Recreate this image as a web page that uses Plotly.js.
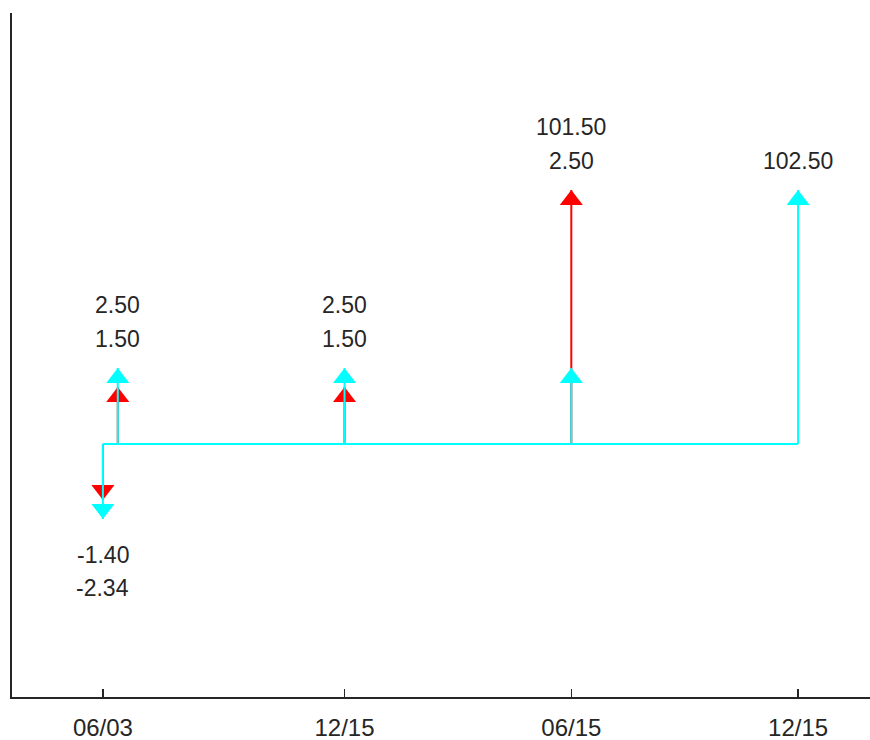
<!DOCTYPE html>
<html><head><meta charset="utf-8">
<script src="https://cdn.plot.ly/plotly-3.0.1.min.js"></script>
<style>html,body{margin:0;padding:0;background:#fff}#chart{width:870px;height:740px}</style>
</head><body><div id="chart"></div>
<script>
// cash-flow dates
const flowDates = ['2003-06-03', '2003-06-15', '2003-12-15', '2004-06-15', '2004-12-15'];
// cash-flow amounts (labels)
const bondAAmounts = [-1.40, 1.50, 1.50, 101.50];          // red
const bondBAmounts = [-2.34, 2.50, 2.50, 2.50, 102.50];    // cyan
// arrow lengths as drawn in the picture (not to scale, arbitrary units)
const bondAArrows = [-56, 57, 57, 254];
const bondBArrows = [-75, 76, 76, 76, 254];
// axis ticks
const tickDates = ['2003-06-03', '2003-12-15', '2004-06-15', '2004-12-15'];
const tickLabels = ['06/03', '12/15', '06/15', '12/15'];

const RED = '#ff0000', CYAN = '#00ffff', TEXT = '#262626';
const HEAD = 20;

function stems(arrows, color) {
  const dates = flowDates.slice(0, arrows.length);
  const xs = [dates[0], dates[dates.length - 1], null];
  const ys = [0, 0, null];
  arrows.forEach((h, i) => { xs.push(dates[i], dates[i], null); ys.push(0, h, null); });
  return {x: xs, y: ys, type: 'scatter', mode: 'lines', line: {color: color, width: 2},
          hoverinfo: 'skip', showlegend: false, cliponaxis: false};
}
function heads(arrows, color) {
  return {x: flowDates.slice(0, arrows.length), y: arrows, type: 'scatter', mode: 'markers',
          marker: {symbol: 'triangle-up', size: HEAD, color: color,
                   angle: arrows.map(h => h < 0 ? 180 : 0), standoff: HEAD / 2},
          hoverinfo: 'skip', showlegend: false, cliponaxis: false};
}

const data = [stems(bondAArrows, RED), heads(bondAArrows, RED),
              stems(bondBArrows, CYAN), heads(bondBArrows, CYAN)];

// labels
const annotations = [];
flowDates.forEach((d, i) => {
  const items = [];
  if (i < bondAAmounts.length) items.push({v: bondAAmounts[i], h: bondAArrows[i]});
  if (i < bondBAmounts.length) items.push({v: bondBAmounts[i], h: bondBArrows[i]});
  const pos = items.filter(o => o.v > 0).sort((a, b) => a.v - b.v);
  const neg = items.filter(o => o.v < 0).sort((a, b) => b.v - a.v);
  if (pos.length) {
    const top = Math.max(...pos.map(o => o.h));
    pos.forEach((o, k) => annotations.push({x: d, y: top, xref: 'x', yref: 'y', text: o.v.toFixed(2),
      showarrow: false, yanchor: 'middle', yshift: 29 + 34 * k, font: {family: 'Liberation Sans, Arial', size: 23, color: TEXT}}));
  }
  if (neg.length) {
    const bot = Math.min(...neg.map(o => o.h));
    neg.forEach((o, k) => annotations.push({x: d, y: bot, xref: 'x', yref: 'y', text: o.v.toFixed(2),
      showarrow: false, yanchor: 'middle', yshift: -(36 + 33 * k), font: {family: 'Liberation Sans, Arial', size: 23, color: TEXT}}));
  }
});

const layout = {
  width: 870, height: 740,
  margin: {l: 12, r: 0, t: 13, b: 43, pad: 0},
  paper_bgcolor: '#fff', plot_bgcolor: '#fff',
  showlegend: false,
  font: {family: 'Liberation Sans, Arial', color: TEXT},
  xaxis: {type: 'date', range: ['2003-03-21 15:20', '2005-02-11 01:00'],
          tickmode: 'array', tickvals: tickDates, ticktext: tickLabels,
          ticks: 'inside', ticklen: 8, tickwidth: 1.5, tickcolor: TEXT,
          ticklabelstandoff: 8,
          showline: true, linecolor: TEXT, linewidth: 2, showgrid: false, zeroline: false,
          tickfont: {family: 'Liberation Sans, Arial', size: 24, color: TEXT}},
  yaxis: {range: [-253, 431], showline: true, linecolor: TEXT, linewidth: 2,
          showgrid: false, zeroline: false, showticklabels: false, ticks: ''},
  annotations: annotations
};
Plotly.newPlot('chart', data, layout, {displayModeBar: false, staticPlot: true});
</script>
</body></html>
